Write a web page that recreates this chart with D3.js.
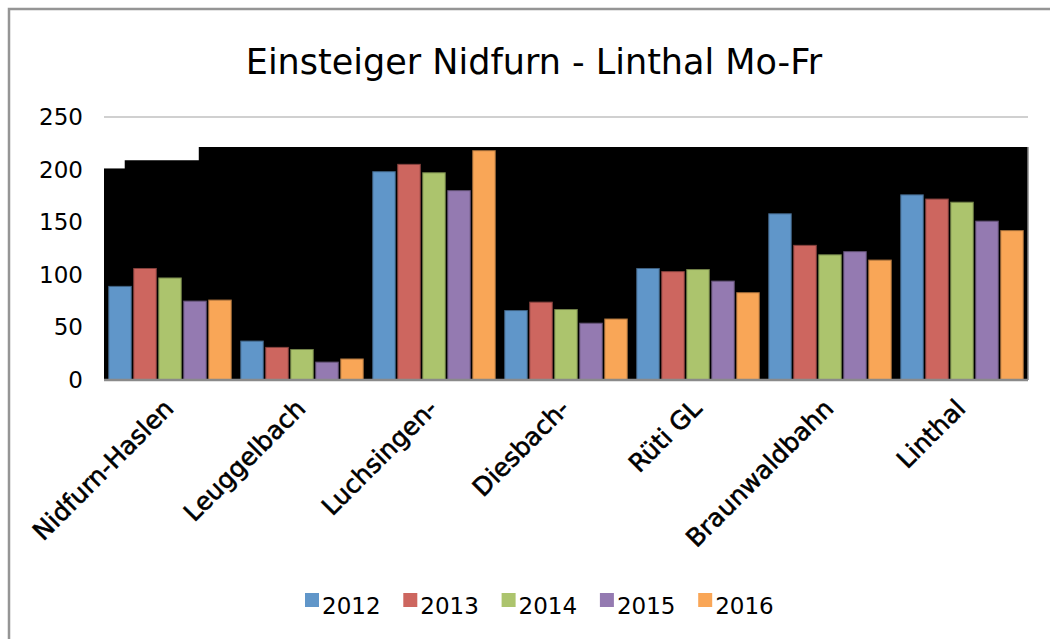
<!DOCTYPE html>
<html lang="de">
<head>
<meta charset="UTF-8">
<title>Einsteiger Nidfurn - Linthal Mo-Fr</title>
<script src="https://d3js.org/d3.v7.min.js"></script>
<style>
  body { margin: 0; background: #fff; }
  svg { display: block; font-family: "DejaVu Sans", sans-serif; }
</style>
</head>
<body>
<svg id="chart" width="1050" height="639"></svg>
<script>
const categories = ["Nidfurn-Haslen", "Leuggelbach", "Luchsingen-", "Diesbach-", "Rüti GL", "Braunwaldbahn", "Linthal"];
const years = ["2012", "2013", "2014", "2015", "2016"];
const colors = ["#6096c9", "#cd665f", "#acc46d", "#947ab1", "#f9a657"];
const values2012 = [89, 37, 198, 66, 106, 158, 176];
const values2013 = [106, 31, 205, 74, 103, 128, 172];
const values2014 = [97, 29, 197, 67, 105, 119, 169];
const values2015 = [75, 17, 180, 54, 94, 122, 151];
const values2016 = [76, 20, 218, 58, 83, 114, 142];
const yTicks = [0, 50, 100, 150, 200, 250];

const series = [values2012, values2013, values2014, values2015, values2016];

const svg = d3.select("#chart");
const plot = { left: 104, right: 1028, top: 117, bottom: 380 };

// Rahmen (nur oben und links sichtbar)
svg.append("path")
    .attr("d", "M9,639 V9 H1050")
    .attr("fill", "none")
    .attr("stroke", "#959595")
    .attr("stroke-width", 2.5);

const x = d3.scaleBand()
    .domain(categories)
    .range([plot.left, plot.right])
    .paddingInner(0.072)
    .paddingOuter(0.036);

const xInner = d3.scaleBand()
    .domain(years)
    .range([0, x.bandwidth()])
    .paddingInner(0.1);

const y = d3.scaleLinear()
    .domain([0, 250])
    .range([plot.bottom, plot.top]);

// Gitterlinien
svg.append("g")
    .selectAll("line")
    .data(yTicks.slice(1))
    .join("line")
    .attr("x1", plot.left)
    .attr("x2", plot.right)
    .attr("y1", d => y(d))
    .attr("y2", d => y(d))
    .attr("stroke", "#d0d0d0")
    .attr("stroke-width", 2);

// schwarze Fläche hinter den Balken (wie im Original)
const backdropSteps = [[0, 201], [0.157, 209], [0.718, 221.5]];
const step = x.step();
let d = `M${plot.left},${y(0)}`;
backdropSteps.forEach((s, i) => {
    const x0 = plot.left + s[0] * step;
    const x1 = i < backdropSteps.length - 1 ? plot.left + backdropSteps[i + 1][0] * step : plot.right;
    d += ` L${x0},${y(s[1])} L${x1},${y(s[1])}`;
});
d += ` L${plot.right},${y(0)} Z`;
svg.append("path").attr("d", d).attr("fill", "#000");
svg.append("line")
    .attr("x1", plot.right).attr("x2", plot.right)
    .attr("y1", y(backdropSteps[2][1])).attr("y2", y(0))
    .attr("stroke", "#8a8a8a").attr("stroke-width", 1.5);

// Balken
const groups = svg.append("g")
    .selectAll("g")
    .data(categories)
    .join("g")
    .attr("transform", c => `translate(${x(c)},0)`);

groups.selectAll("rect")
    .data((c, ci) => years.map((yr, si) => ({ yr, si, v: series[si][ci] })))
    .join("rect")
    .attr("x", d => xInner(d.yr))
    .attr("y", d => y(d.v))
    .attr("width", xInner.bandwidth())
    .attr("height", d => y(0) - y(d.v))
    .attr("fill", d => colors[d.si])
    .attr("stroke", d => d3.color(colors[d.si]).darker(1.2))
    .attr("stroke-width", 1);

// Achsenlinie
svg.append("line")
    .attr("x1", plot.left).attr("x2", plot.right)
    .attr("y1", y(0)).attr("y2", y(0))
    .attr("stroke", "#8a8a8a").attr("stroke-width", 2.5);

// y-Achse Beschriftung
svg.append("g")
    .selectAll("text")
    .data(yTicks)
    .join("text")
    .attr("x", 83)
    .attr("y", d => y(d) + 8)
    .attr("text-anchor", "end")
    .attr("font-size", 23)
    .attr("fill", "#000")
    .text(d => d);

// x-Achse Beschriftung
svg.append("g")
    .selectAll("text")
    .data(categories)
    .join("text")
    .attr("transform", c => `translate(${x(c) + x.bandwidth() / 2 + 5},410) rotate(-45)`)
    .attr("text-anchor", "end")
    .attr("font-size", 25)
    .attr("fill", "#000")
    .attr("stroke", "#000")
    .attr("stroke-width", 0.6)
    .text(c => c);

// Titel
svg.append("text")
    .attr("x", 534)
    .attr("y", 74)
    .attr("text-anchor", "middle")
    .attr("font-size", 35)
    .attr("fill", "#000")
    .text("Einsteiger Nidfurn - Linthal Mo-Fr");

// Legende
const legend = svg.append("g")
    .selectAll("g")
    .data(years)
    .join("g")
    .attr("transform", (yr, i) => `translate(${305 + i * 98.3},593)`);

legend.append("rect")
    .attr("width", 14)
    .attr("height", 14)
    .attr("fill", (yr, i) => colors[i]);

legend.append("text")
    .attr("x", 17)
    .attr("y", 21)
    .attr("font-size", 23)
    .attr("fill", "#000")
    .text(yr => yr);
</script>
</body>
</html>
